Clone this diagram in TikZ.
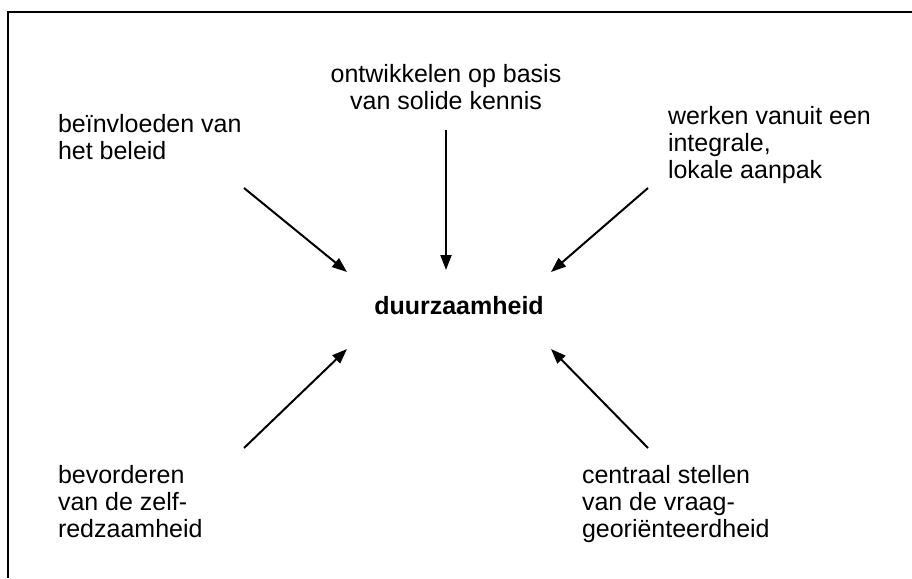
\documentclass[tikz,border=0pt]{standalone}
\usepackage{fontspec}
\setmainfont{Liberation Sans}
\usetikzlibrary{arrows.meta}

\begin{document}
\begin{tikzpicture}[x=1pt,y=-1pt,inner sep=0pt,outer sep=0pt,
tekst/.style={align=left,anchor=north west,font=\fontsize{25}{27}\selectfont},
pijl/.style={line width=2pt,-{Triangle[length=15pt,width=11pt]}}]

\useasboundingbox (0,0) rectangle (912,578);
\draw[line width=2.5pt] (8,578) -- (8,12) -- (912,12);

\node[font=\fontsize{25}{27}\selectfont\bfseries,anchor=base] (kern) at (459,314) {duurzaamheid};

\node[tekst,align=center,anchor=north] (boven) at (446,64) {ontwikkelen op basis\\van solide kennis};
\node[tekst] (linksboven) at (58,114) {beïnvloeden van\\het beleid};
\node[tekst] (rechtsboven) at (668,106) {werken vanuit een\\integrale,\\lokale aanpak};
\node[tekst] (linksonder) at (58,465) {bevorderen\\van de zelf-\\redzaamheid};
\node[tekst] (rechtsonder) at (582,465) {centraal stellen\\van de vraag-\\georiënteerdheid};

\coordinate (a1) at (446,130);  \coordinate (b1) at (446,270);
\coordinate (a2) at (244,188);  \coordinate (b2) at (347,272);
\coordinate (a3) at (648,188);  \coordinate (b3) at (551,272);
\coordinate (a4) at (244,448);  \coordinate (b4) at (347,349);
\coordinate (a5) at (648,448);  \coordinate (b5) at (551,349);

\draw[pijl] (a1) -- (b1);
\draw[pijl] (a2) -- (b2);
\draw[pijl] (a3) -- (b3);
\draw[pijl] (a4) -- (b4);
\draw[pijl] (a5) -- (b5);
\end{tikzpicture}
\end{document}
